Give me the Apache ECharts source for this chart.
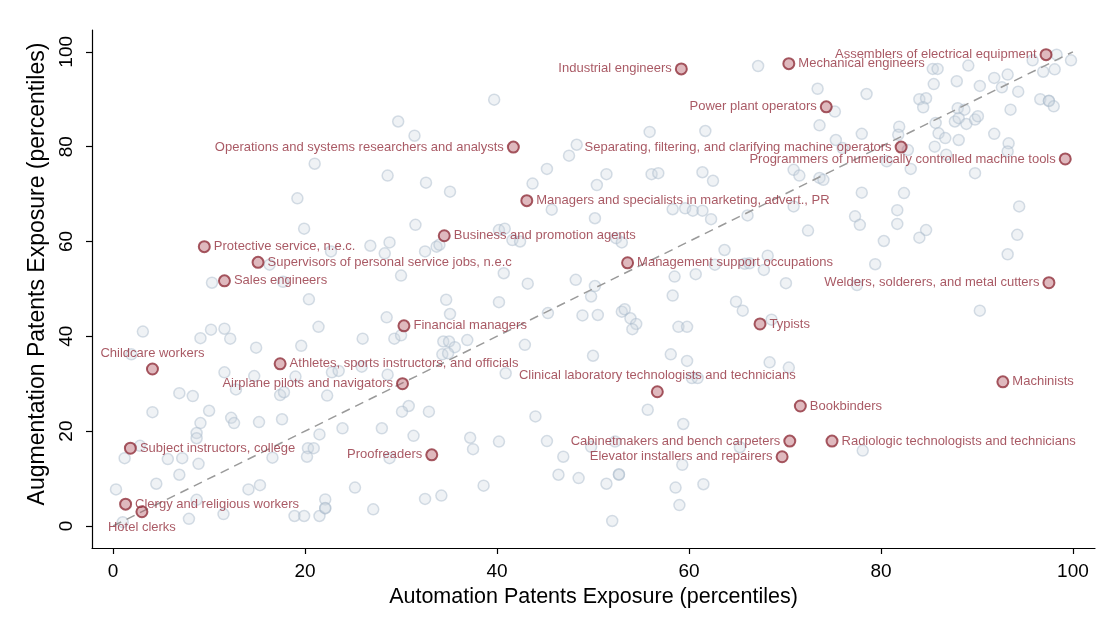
<!DOCTYPE html>
<html>
<head>
<meta charset="utf-8">
<script src="https://cdn.jsdelivr.net/npm/echarts@6/dist/echarts.min.js"></script>
<style>
html,body{margin:0;padding:0;background:#fff;}
#chart{width:1109px;height:627px;}
</style>
</head>
<body>
<div id="chart"></div>
<script>
// Background occupations (automation pct, augmentation pct)
var bgX = [21.0,19.2,39.7,29.7,31.4,28.6,32.6,35.1,43.7,45.2,47.5,48.3,50.4,67.2,73.4,75.2,73.6,75.3,55.9,61.7,51.4,56.1,56.8,61.4,62.5,70.9,71.5,73.6,74.0,76.0,
98.3,95.8,99.8,98.1,96.9,85.4,85.9,89.1,85.5,87.9,90.3,91.8,93.2,92.6,94.3,78.5,84.0,84.7,84.4,88.0,88.7,93.5,96.6,97.5,97.5,98.0,85.7,87.7,88.1,88.9,
89.8,90.1,81.9,81.8,78.0,86.0,86.7,88.1,91.8,85.6,93.3,93.2,82.8,80.6,83.1,86.8,89.8,78.0,82.4,94.4,77.3,77.8,81.7,81.7,84.7,84.0,80.3,94.2,93.2,79.4,
77.5,90.3,72.4,58.3,59.6,60.4,61.4,62.3,66.1,70.9,50.2,63.7,68.2,62.7,65.8,66.3,67.8,58.5,60.7,70.1,50.2,49.8,58.3,64.9,65.6,50.5,53.0,53.3,53.9,54.5,
54.1,58.9,59.8,68.6,50.0,58.1,59.8,68.4,70.4,60.3,60.9,55.7,59.4,52.3,65.3,59.3,52.7,52.7,51.4,58.6,61.5,59.0,52.0,78.1,40.9,28.6,30.8,30.1,32.9,44.0,
23.9,28.0,31.3,37.2,37.5,40.2,45.2,46.9,49.8,46.4,48.5,28.8,25.2,38.6,32.5,34.2,27.1,11.6,14.7,19.0,22.8,23.5,12.8,6.9,8.3,17.4,17.8,22.3,4.1,10.0,
9.1,12.3,12.6,15.2,17.6,21.5,8.7,8.7,2.8,1.2,5.7,7.2,8.9,16.6,20.3,20.9,20.2,6.9,4.5,0.3,14.1,15.3,8.7,11.5,7.9,18.9,19.9,21.5,22.1,22.1,
22.1,1.0,19.9,22.7,16.3,10.3,17.7,20.4,21.4,3.1,9.1,10.2,11.6,12.2,14.9,19.6,1.9,45.7,31.5,26.8,28.8,28.3,32.5,33.7,34.0,40.2,40.8,41.6,42.4,30.0,
40.7,43.2,48.2,34.7,40.2,28.5,35.1,45.3,48.9,26.0,29.3,30.0,34.4,35.0,35.6,36.9,34.3,34.9,42.9,25.9,52.4,53.0];
var bgY = [76.4,69.1,89.9,85.3,82.3,73.9,72.4,70.5,72.2,75.3,78.1,80.4,71.9,97.0,92.2,87.4,84.5,81.4,83.1,83.3,74.2,74.2,74.4,74.6,72.8,75.1,73.9,73.4,73.0,79.7,
99.4,98.2,98.2,96.3,95.8,96.4,96.4,97.1,93.2,93.8,92.8,94.5,95.2,92.5,91.6,91.1,90.0,90.2,88.3,88.1,87.8,87.8,90.0,89.7,89.6,88.5,85.0,85.3,86.0,84.8,
85.7,86.4,84.2,82.5,82.7,82.8,81.8,81.4,82.7,80.0,80.7,79.0,79.3,76.9,75.3,78.3,74.4,70.3,70.2,67.4,65.3,63.5,66.6,63.7,62.4,60.8,60.1,61.4,57.3,55.2,
50.8,45.4,62.3,66.8,67.0,66.5,66.5,64.7,65.5,67.4,64.9,58.2,57.0,55.1,55.3,55.4,54.0,52.6,53.1,51.2,50.6,48.4,48.6,47.3,45.4,44.5,45.2,45.7,43.8,42.6,
41.5,42.0,42.0,43.5,35.9,36.2,34.8,34.5,33.4,31.2,31.2,24.5,21.5,17.8,16.6,12.9,10.8,10.9,8.9,8.1,8.8,4.4,1.05,15.9,32.2,31.9,25.3,24.1,24.1,23.1,
20.6,20.6,19.0,18.6,16.2,17.8,17.9,14.6,16.7,10.8,10.1,14.3,8.1,8.5,5.7,6.4,3.5,32.4,31.6,31.5,32.4,32.7,28.8,28.0,27.4,27.6,28.2,27.5,24.0,24.3,
21.7,22.8,21.7,21.9,22.5,19.3,19.6,18.5,16.9,14.3,14.1,14.3,13.1,14.4,16.4,16.4,14.6,10.8,8.9,7.7,7.7,8.6,5.5,2.5,1.5,2.1,2.1,2.1,5.6,3.7,
3.8,0.8,62.7,57.9,55.1,51.3,51.5,47.8,42.0,41.0,39.6,41.4,41.6,39.5,37.6,38.0,36.2,66.7,63.5,59.1,59.8,57.5,57.9,58.9,59.3,62.4,62.7,60.3,60.0,52.8,
53.3,51.1,51.9,47.7,47.2,44.0,44.7,44.9,44.4,39.5,39.5,40.2,38.9,38.9,37.7,39.2,36.2,36.4,38.2,33.6,60.7,59.8];

// Highlighted occupations
var labNames = ["Assemblers of electrical equipment","Mechanical engineers","Industrial engineers","Power plant operators",
"Operations and systems researchers and analysts","Separating, filtering, and clarifying machine operators",
"Programmers of numerically controlled machine tools","Managers and specialists in marketing, advert., PR",
"Business and promotion agents","Protective service, n.e.c.","Supervisors of personal service jobs, n.e.c","Sales engineers",
"Management support occupations","Welders, solderers, and metal cutters","Financial managers","Typists","Childcare workers",
"Athletes, sports instructors, and officials","Airplane pilots and navigators","Clinical laboratory technologists and technicians",
"Machinists","Bookbinders","Cabinetmakers and bench carpeters","Radiologic technologists and technicians",
"Elevator installers and repairers","Proofreaders","Subject instructors, college","Clergy and religious workers","Hotel clerks"];
var labX = [97.2,70.4,59.2,74.3,41.7,82.1,99.2,43.1,34.5,9.5,15.1,11.6,53.6,97.5,30.3,67.4,4.1,17.4,30.15,56.7,92.7,71.6,70.5,74.9,69.7,33.2,1.8,1.3,3.0];
var labY = [99.4,97.5,96.4,88.4,79.9,79.9,77.4,68.6,61.2,58.9,55.6,51.7,55.5,51.3,42.2,42.6,33.1,34.2,30.0,28.3,30.4,25.3,17.9,17.9,14.6,15.0,16.4,4.6,3.0];
var labPos = ["left","right","left","left","left","left","left","right","right","right","right","right","right","left","right","right","top",
"right","left","top","right","right","left","right","left","left","right","right","bottom"];

// 45-degree reference line
var refLine = [[0,0],[100,100]];
var tickVals = [0,20,40,60,80,100];

var bgData = bgX.map(function(x,i){return [x,bgY[i]];});
var labData = labX.map(function(x,i){
  return {value:[x,labY[i]], name:labNames[i], label:{position:labPos[i]}};
});

var FONT = "'Liberation Sans', Arial, Helvetica, sans-serif";
var chart = echarts.init(document.getElementById('chart'), null, {renderer:'canvas'});
chart.setOption({
  animation:false,
  backgroundColor:'#ffffff',
  textStyle:{fontFamily:FONT},
  grid:{left:92,right:14,top:30,bottom:79,containLabel:false},
  xAxis:{
    type:'value', min:-2.2, max:102.3,
    name:'Automation Patents Exposure (percentiles)', nameLocation:'middle', nameGap:35,
    nameTextStyle:{fontSize:21.5,color:'#000',fontFamily:FONT},
    axisLine:{show:true,onZero:false,lineStyle:{color:'#000',width:1.2}},
    axisTick:{show:true,length:6,lineStyle:{color:'#000',width:1.2},customValues:tickVals},
    axisLabel:{fontSize:19,color:'#000',margin:14,fontFamily:FONT,customValues:tickVals},
    splitLine:{show:false}
  },
  yAxis:{
    type:'value', min:-4.65, max:104.6,
    name:'Augmentation Patents Exposure (percentiles)', nameLocation:'middle', nameGap:26,
    nameTextStyle:{fontSize:23,color:'#000',fontFamily:FONT,padding:[0,0,0,30]},
    axisLine:{show:true,onZero:false,lineStyle:{color:'#000',width:1.2}},
    axisTick:{show:true,length:6,lineStyle:{color:'#000',width:1.2},customValues:tickVals},
    axisLabel:{fontSize:19,color:'#000',margin:16,rotate:90,fontFamily:FONT,customValues:tickVals},
    splitLine:{show:false}
  },
  series:[
    {
      type:'scatter', data:bgData, symbol:'circle', symbolSize:11, silent:true,
      itemStyle:{color:'rgba(205,214,224,0.4)',borderColor:'rgba(170,186,202,0.6)',borderWidth:1.5}
    },
    {
      type:'line', data:refLine, symbol:'none', silent:true,
      lineStyle:{color:'#9a9a9a',width:1.5,type:[9,6]}, z:3
    },
    {
      type:'scatter', data:labData, symbol:'circle', symbolSize:11, z:4,
      itemStyle:{color:'rgba(175,80,92,0.5)',borderColor:'#90303b',borderWidth:2},
      label:{show:true,formatter:'{b}',color:'#93303d',fontSize:13,fontFamily:FONT,distance:3}
    }
  ]
});
</script>
</body>
</html>
